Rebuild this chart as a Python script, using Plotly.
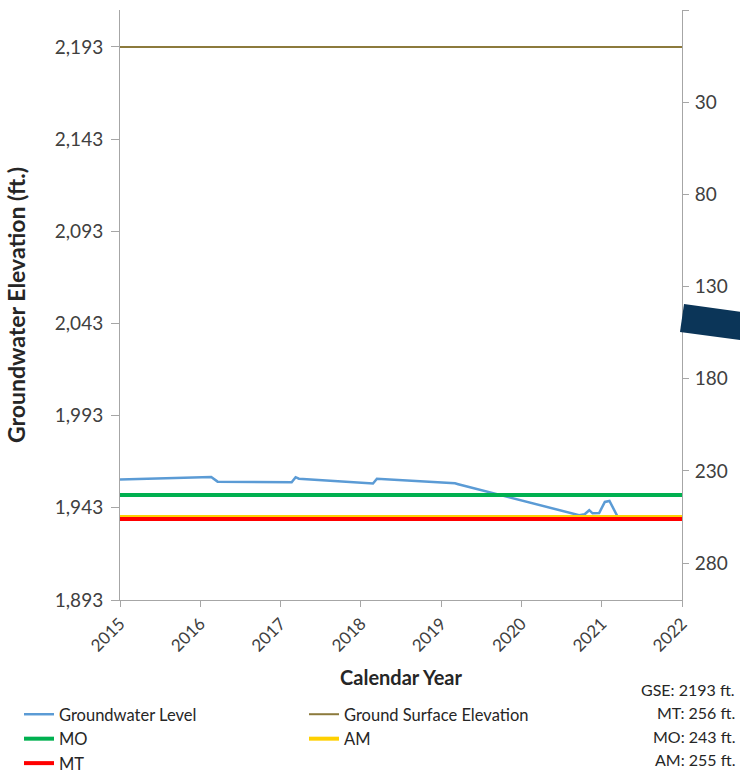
import plotly.graph_objects as go

# ---- data ----
gw_dates = ["2015-01-01", "2016-02-20", "2016-03-20", "2017-02-20", "2017-03-10", "2017-03-25",
            "2018-02-25", "2018-03-15", "2019-03-05", "2019-03-20", "2020-09-20", "2020-10-15",
            "2020-11-05", "2020-11-20", "2020-12-20", "2021-01-15", "2021-02-05", "2021-03-15"]
gw_elev = [1958.3, 1959.7, 1957.2, 1956.9, 1959.6, 1958.8,
           1956.2, 1958.8, 1956.3, 1955.8, 1939.0, 1939.5,
           1941.7, 1940.0, 1940.2, 1946.2, 1946.7, 1938.0]

x_span = ["2015-01-01", "2022-01-01"]
gse = 2193
mo_depth = 243
am_depth = 255
mt_depth = 256

left_ticks = [1893, 1943, 1993, 2043, 2093, 2143, 2193]
right_ticks = [-20, 30, 80, 130, 180, 230, 280]
left_range = [1893, 2213]
right_range = [300, -20]
notes = ["GSE: 2193 ft.", "MT: 256 ft.", "MO: 243 ft.", "AM: 255 ft."]

FONT = "Lato, Open Sans, sans-serif"

fig = go.Figure()
fig.add_trace(go.Scatter(x=gw_dates, y=gw_elev, mode="lines", name="Groundwater Level",
                         line=dict(color="#5b9bd5", width=2.5), yaxis="y"))
fig.add_trace(go.Scatter(x=x_span, y=[gse, gse], mode="lines", name="Ground Surface Elevation",
                         line=dict(color="#8c7a3c", width=2), yaxis="y"))
fig.add_trace(go.Scatter(x=x_span, y=[mo_depth, mo_depth], mode="lines", name="MO",
                         line=dict(color="#00b050", width=4), yaxis="y2"))
fig.add_trace(go.Scatter(x=x_span, y=[am_depth, am_depth], mode="lines", name="AM",
                         line=dict(color="#ffd000", width=4), yaxis="y2"))
fig.add_trace(go.Scatter(x=x_span, y=[mt_depth, mt_depth], mode="lines", name="MT",
                         line=dict(color="#ff0000", width=4), yaxis="y2"))

axis_line = "#a6a6a6"
fig.update_layout(
    width=740, height=782,
    margin=dict(l=120, r=58, t=10, b=182, autoexpand=False),
    paper_bgcolor="white", plot_bgcolor="white",
    font=dict(family=FONT, size=18, color="#404040"),
    showlegend=True,
    legend=dict(orientation="h", x=-0.1797, xanchor="left",
                y=-0.1644, yanchor="top",
                entrywidth=240, entrywidthmode="pixels", font=dict(size=16.5, color="#262626"),
                tracegroupgap=0, itemwidth=30, bgcolor="rgba(0,0,0,0)"),
    xaxis=dict(type="date", range=x_span, tickformat="%Y", dtick="M12", tick0="2015-01-01",
               tickangle=-45, showgrid=False, showline=True, linecolor=axis_line, linewidth=1,
               ticks="outside", ticklen=6, tickcolor=axis_line, zeroline=False,
               title=dict(text="<b>Calendar Year</b>", font=dict(size=20, color="#262626"), standoff=16),
               tickfont=dict(size=17, color="#404040")),
    yaxis=dict(range=left_range, tickvals=left_ticks, tickformat=",d", showgrid=False,
               showline=True, linecolor=axis_line, linewidth=1, ticks="outside", ticklen=8,
               ticklabelstandoff=4,
               tickcolor=axis_line, zeroline=False, tickfont=dict(size=19, color="#404040"),
               title=dict(text="<b>Groundwater Elevation (ft.)</b>", font=dict(size=23, color="#262626"),
                          standoff=22)),
    yaxis2=dict(range=right_range, overlaying="y", side="right", tickvals=right_ticks,
                ticktext=[""] + [str(v) for v in right_ticks[1:]], showgrid=False, showline=True,
                linecolor=axis_line, linewidth=1, ticks="outside", ticklen=6, tickcolor=axis_line,
                ticklabelstandoff=2,
                zeroline=False, tickfont=dict(size=19, color="#404040")),
)

# notes bottom right
ys = [-0.1525, -0.1915, -0.232, -0.271]
for t, yy in zip(notes, ys):
    fig.add_annotation(text=t, xref="paper", yref="paper", x=1.098, y=yy, xanchor="right",
                       yanchor="middle", showarrow=False, font=dict(size=16, color="#262626"))

# dark navy callout arrow fragment at right edge
fig.add_shape(type="path", xref="paper", yref="paper",
              path="M 1.0036 0.5017 L 1.1032 0.4886 L 1.1032 0.4407 L 0.9964 0.4542 Z",
              fillcolor="#0b3558", line=dict(width=0), layer="above")

fig.write_html("out.html", config={"displayModeBar": False},
               post_script="document.body.style.margin='0';")
